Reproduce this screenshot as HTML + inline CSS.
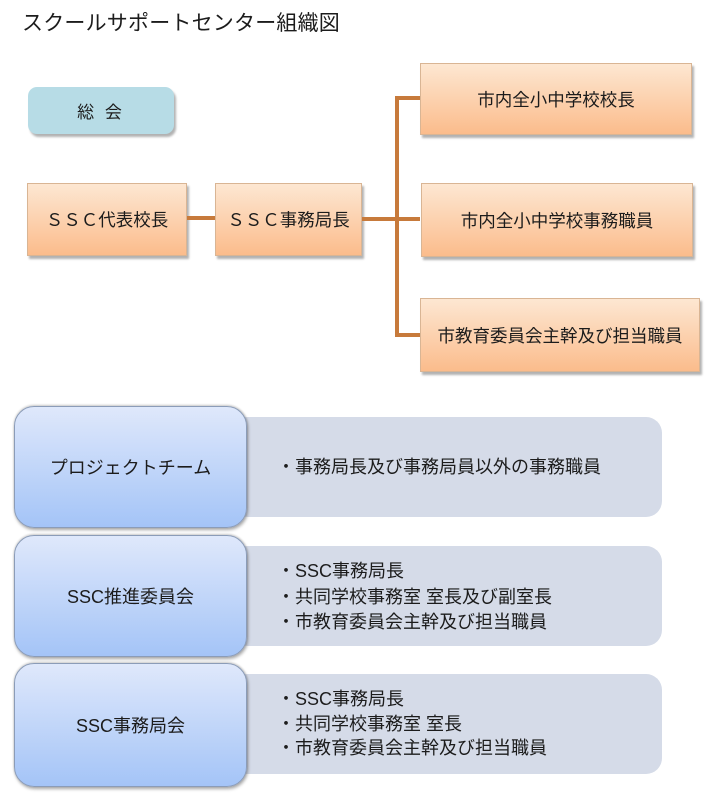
<!DOCTYPE html>
<html><head><meta charset="utf-8">
<style>
*{margin:0;padding:0;box-sizing:border-box}
body{width:710px;height:800px;background:#fff;position:relative;overflow:hidden;font-family:"Liberation Sans","Noto Sans CJK JP",sans-serif;color:#1c1c1c}
.a{position:absolute}
.title{left:22px;top:10px;font-size:21px;line-height:28px;white-space:nowrap;letter-spacing:0.2px}
.ob{position:absolute;background:linear-gradient(#fde7d2,#fbbc8c);border:1px solid #d9b594;box-shadow:2px 3px 2px rgba(0,0,0,0.3);display:flex;align-items:center;justify-content:center;font-size:17.5px;white-space:nowrap}
.ln{position:absolute;background:#c77a3b}
.bb{position:absolute;left:14px;width:233px;border-radius:20px;background:linear-gradient(#dfe8fb,#a4c4f7);border:1px solid #8b9cb8;box-shadow:1px 2px 3px rgba(0,0,0,0.35),0 -1px 2px rgba(0,0,0,0.2);display:flex;align-items:center;justify-content:center;font-size:18px;white-space:nowrap;z-index:2}
.pn{position:absolute;left:232px;width:430px;height:100px;border-radius:16px;background:#d5dbe8;z-index:1}
.tx{position:absolute;left:277px;font-size:18px;line-height:25px;white-space:nowrap;z-index:3}
</style></head><body>
<div class="a title">スクールサポートセンター組織図</div>

<div class="a" style="left:28px;top:87px;width:146px;height:47px;border-radius:9px;background:#b7dce6;box-shadow:2px 3px 2px rgba(0,0,0,0.3);display:flex;align-items:center;justify-content:center;font-size:17px;letter-spacing:3px">総&nbsp;会</div>

<div class="ob" style="left:27px;top:183px;width:160px;height:73px">ＳＳＣ代表校長</div>
<div class="ob" style="left:215px;top:183px;width:147px;height:73px">ＳＳＣ事務局長</div>
<div class="ob" style="left:420px;top:63px;width:272px;height:72px">市内全小中学校校長</div>
<div class="ob" style="left:421px;top:183px;width:272px;height:74px">市内全小中学校事務職員</div>
<div class="ob" style="left:420px;top:298px;width:280px;height:74px">市教育委員会主幹及び担当職員</div>

<div class="ln" style="left:187px;top:216px;width:28px;height:4px"></div>
<div class="ln" style="left:362px;top:217px;width:58px;height:4px"></div>
<div class="ln" style="left:395px;top:96px;width:4px;height:241px"></div>
<div class="ln" style="left:395px;top:96px;width:25px;height:4px"></div>
<div class="ln" style="left:395px;top:333px;width:25px;height:4px"></div>

<div class="bb" style="top:406px;height:122px">プロジェクトチーム</div>
<div class="pn" style="top:417px"></div>
<div class="tx" style="top:455px">・事務局長及び事務局員以外の事務職員</div>

<div class="bb" style="top:535px;height:122px">SSC推進委員会</div>
<div class="pn" style="top:546px"></div>
<div class="tx" style="top:559px">・SSC事務局長</div>
<div class="tx" style="top:585px">・共同学校事務室 室長及び副室長</div>
<div class="tx" style="top:610px">・市教育委員会主幹及び担当職員</div>

<div class="bb" style="top:663px;height:124px">SSC事務局会</div>
<div class="pn" style="top:674px"></div>
<div class="tx" style="top:687px">・SSC事務局長</div>
<div class="tx" style="top:712px">・共同学校事務室 室長</div>
<div class="tx" style="top:736px">・市教育委員会主幹及び担当職員</div>
</body></html>
